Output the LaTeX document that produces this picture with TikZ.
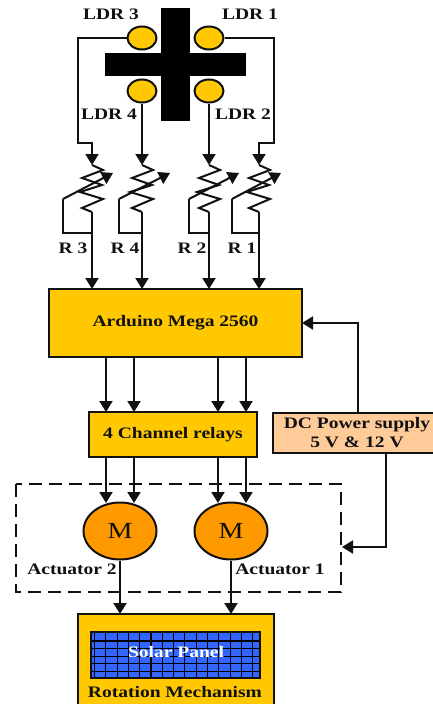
\documentclass[tikz,border=0pt]{standalone}
\usepackage{fontspec}
\setmainfont[FakeStretch=1.22]{Liberation Serif}
\usetikzlibrary{arrows.meta,shapes.geometric}
\definecolor{yel}{HTML}{FFC800}
\definecolor{org}{HTML}{FF9900}
\definecolor{peach}{HTML}{FFCC99}
\definecolor{pan}{HTML}{3366FF}
\definecolor{ink}{HTML}{111111}
\tikzset{
 x=1pt,y=-1pt,
 wire/.style={draw=ink,line width=2pt},
 arr/.style={wire,-{Triangle[length=11pt,width=13pt]}},
 box/.style={draw=ink,line width=2pt,fill=yel,inner sep=0pt,font=\bfseries\fontsize{16}{19}\selectfont,text=ink,align=center},
 ldr/.style={draw=ink,line width=2pt,fill=yel,ellipse,minimum width=29pt,minimum height=23pt,inner sep=0pt},
 motor/.style={draw=ink,line width=2pt,fill=org,ellipse,minimum width=73pt,minimum height=57pt,inner sep=0pt,font=\fontsize{23}{25}\selectfont,text=ink},
 lab/.style={font=\bfseries\fontsize{16}{18}\selectfont,text=ink,inner sep=0pt}
}
\begin{document}
\begin{tikzpicture}
\useasboundingbox (0,0) rectangle (433,704);
% sensor cross
\fill[black] (161,8) rectangle (190,121);
\fill[black] (105,53) rectangle (246,76);
\node[ldr] (l3) at (142,38) {};
\node[ldr] (l1) at (209,38) {};
\node[ldr] (l4) at (142,91) {};
\node[ldr] (l2) at (209,91) {};
\node[lab] at (111,14) {LDR 3};
\node[lab] at (250,14) {LDR 1};
\node[lab] at (109,114) {LDR 4};
\node[lab] at (243,114) {LDR 2};
% boxes
\node[box,minimum width=253pt,minimum height=68pt] (ard) at (175.5,323) {Arduino Mega 2560};
\node[box,minimum width=168pt,minimum height=45pt] (rel) at (173,434.5) {4 Channel relays};
\node[box,fill=peach,minimum width=161pt,minimum height=40pt] (dc) at (353.5,433) {\hspace*{7pt}DC Power supply\\\hspace*{7pt}5 V \& 12 V};
% resistors
\foreach \n/\cx/\lx/\tx/\ty in {3/92/63/113/173,4/142/119/170/173,2/209/189/239/173,1/259/232/281/173}{
 \coordinate (top\n) at (\cx,165);
 \coordinate (bot\n) at (\cx,212);
 \coordinate (in\n) at (\cx,289);
 \draw[wire,line join=miter] (top\n) -- (\cx+11,170) -- (\cx-10,178) -- (\cx+10,185) -- (\cx-12,192) -- (\cx+11,199) -- (\cx-10,208) -- (bot\n);
 \coordinate (ta\n) at (\tx,\ty);
 \coordinate (lp\n) at (\lx,199);
 \draw[arr] (lp\n) -- (ta\n);
 \draw[wire] (lp\n) -- (\lx,233) -- (\cx,233);
 \draw[arr] (bot\n) -- (in\n);
}
\coordinate (c3) at (78,143);
\coordinate (c1) at (274,143);
\draw[arr] (l3.west) -| (c3) -| (top3);
\draw[arr] (l1.east) -| (c1) -| (top1);
\draw[arr] (l4.south) -- (top4);
\draw[arr] (l2.south) -- (top2);
\node[lab] at (73,248) {R 3};
\node[lab] at (125,248) {R 4};
\node[lab] at (192,248) {R 2};
\node[lab] at (242,248) {R 1};
% motors
\node[motor] (m2) at (120,531) {M};
\node[motor] (m1) at (231,531) {M};
\draw[draw=ink,line width=2pt,dash pattern=on 13pt off 7pt] (16,484) rectangle (341,592);
\coordinate (act) at (342,547);
\node[lab] at (72,569) {Actuator 2};
\node[lab] at (280,569) {Actuator 1};
% links
\foreach \x in {106,134,218,246}{
 \draw[arr] (\x,357) -- (\x,412);
 \draw[arr] (\x,457) -- (\x,503);
}
\coordinate (dcu) at (358,413);
\coordinate (dcd) at (386,453);
\coordinate (ardin) at (302,323);
\draw[arr] (dcu) |- (ardin);
\draw[arr] (dcd) |- (act);
% mechanism
\node[box,minimum width=196pt,minimum height=92pt] (rot) at (176,660) {};
\coordinate (r2) at (120,614);
\coordinate (r1) at (231,614);
\draw[arr] (m2.south) -- (r2);
\draw[arr] (m1.south) -- (r1);
\fill[pan] (91,632) rectangle (260,678);
\begin{scope}
\clip (91,632) rectangle (260,678);
\foreach \x in {0,...,15}{\draw[black,line width=1.1pt] (94.5+\x*11.3,632) -- (94.5+\x*11.3,678);}
\foreach \y in {0,...,4}{\draw[black,line width=1.1pt] (91,641+\y*7.6) -- (260,641+\y*7.6);}
\end{scope}
\draw[ink,line width=2pt] (91,632) rectangle (260,678);
\node[font=\bfseries\fontsize{16}{18}\selectfont,text=white,inner sep=0pt] (sp) at (176,652) {Solar Panel};
\node[font=\bfseries\fontsize{16}{18}\selectfont,text=ink,inner sep=0pt] (rm) at (175,692) {Rotation Mechanism};
\end{tikzpicture}
\end{document}
